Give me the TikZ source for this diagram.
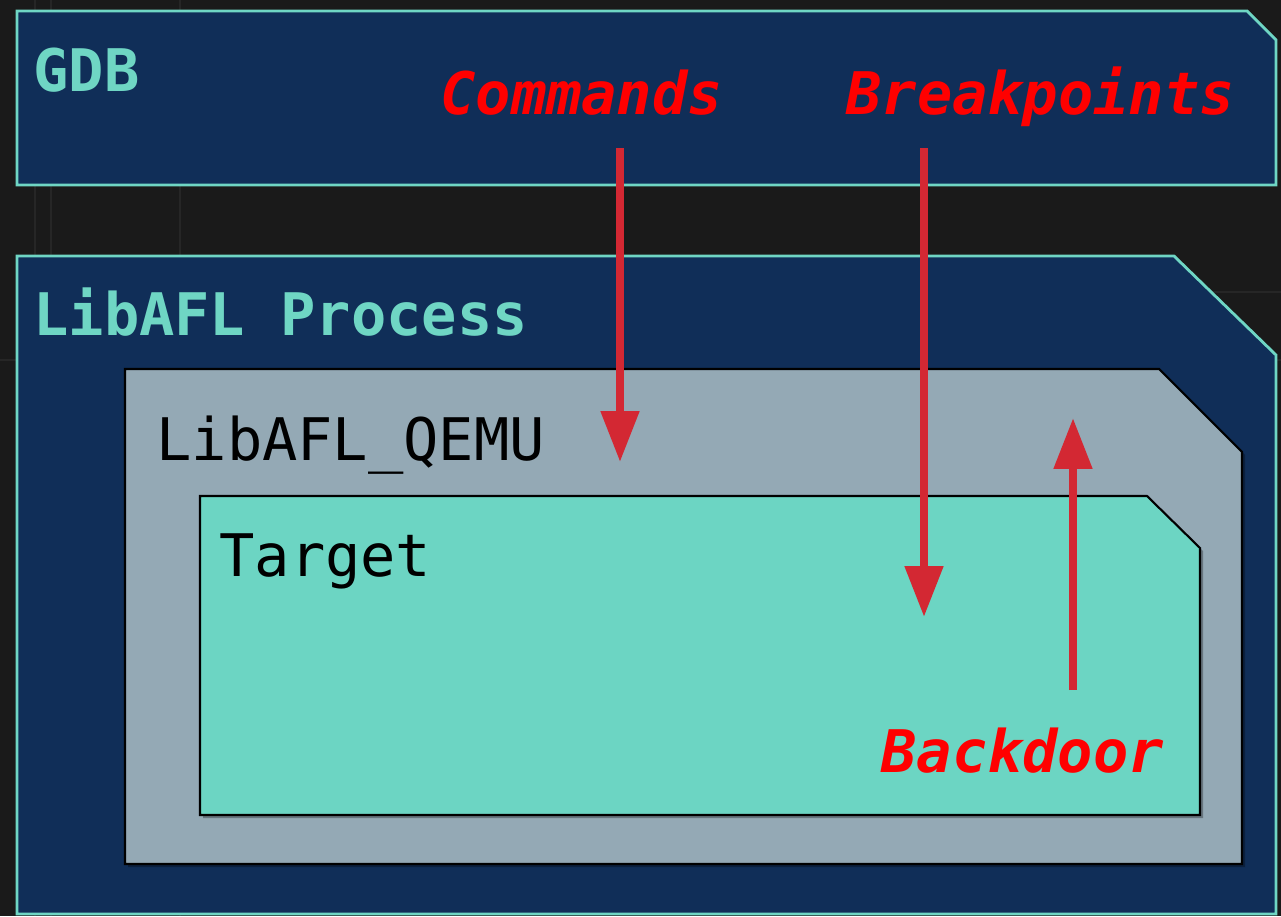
\documentclass[tikz,border=0pt]{standalone}
\usepackage{fontspec}
\usepackage{tikz}
\usetikzlibrary{arrows.meta,shadows}
\newfontfamily\boxfont{DejaVu Sans Mono}[
    BoldFont={DejaVu Sans Mono Bold},
    ItalicFont={DejaVu Sans Mono Oblique},
    BoldItalicFont={DejaVu Sans Mono Bold Oblique}]
\definecolor{bgdark}{HTML}{1A1A1A}
\definecolor{gridgray}{HTML}{262626}
\definecolor{navy}{HTML}{102E58}
\definecolor{tealline}{HTML}{6FD6C4}
\definecolor{targetfill}{HTML}{6CD5C3}
\definecolor{qemufill}{HTML}{94A9B5}
\definecolor{arrowred}{HTML}{D32833}

\begin{document}
\begin{tikzpicture}[
    x=0.02cm, y=-0.02cm,
    outerbox/.style={draw=tealline, fill=navy, line width=1.6pt, line join=miter},
    innerbox/.style={draw=black, line width=1.2pt, line join=miter,
        drop shadow={shadow xshift=0.06cm, shadow yshift=-0.06cm, opacity=0.3, fill=black}},
    title/.style={anchor=base west, inner sep=0pt, font=\boxfont\fontsize{33.4}{33.4}\selectfont},
    tealtitle/.style={title, font=\boxfont\bfseries\fontsize{33.4}{33.4}\selectfont, text=tealline},
    redtag/.style={title, font=\boxfont\bfseries\itshape\fontsize{33.4}{33.4}\selectfont, text=red},
    arrow/.style={-{Triangle[length=1.02cm, width=0.74cm]}, line width=0.165cm, color=arrowred}
]

    % Background
    \useasboundingbox (0,0) rectangle (1281,916);
    \fill[bgdark] (0,0) rectangle (1281,916);
    \draw[gridgray, line width=1.2pt] (35,0) -- (35,916) (51,0) -- (51,916) (180,0) -- (180,916)
        (1150,292) -- (1281,292) (0,360) -- (1281,360);

    % Boxes
    \draw[outerbox] (17,11) -- (1247,11) -- (1276,40) -- (1276,185) -- (17,185) -- cycle;
    \draw[outerbox] (17,256) -- (1174,256) -- (1276,355) -- (1276,914) -- (17,914) -- cycle;
    \draw[innerbox, fill=qemufill] (125,369) -- (1159,369) -- (1242,452) -- (1242,864) -- (125,864) -- cycle;
    \draw[innerbox, fill=targetfill] (200,496) -- (1147,496) -- (1200,548) -- (1200,815) -- (200,815) -- cycle;

    % Nodes
    \node[tealtitle] (gdb) at (33,91) {GDB};
    \node[tealtitle] (process) at (33,335) {LibAFL Process};
    \node[title] (qemu) at (156,460) {LibAFL\_QEMU};
    \node[title] (target) at (219,576) {Target};
    \node[redtag] (commands) at (440,114) {Commands};
    \node[redtag] (breakpoints) at (846,114) {Breakpoints};
    \node[redtag] (backdoor) at (881,772) {Backdoor};

    % Arrow ends
    \coordinate (cmdstart) at (620,148);
    \coordinate (cmdend) at (620,462);
    \coordinate (bpstart) at (924,148);
    \coordinate (bpend) at (924,617);
    \coordinate (bdstart) at (1073,690);
    \coordinate (bdend) at (1073,418);

    % Arrows
    \draw[arrow] (cmdstart) -- (cmdend);
    \draw[arrow] (bpstart) -- (bpend);
    \draw[arrow] (bdstart) -- (bdend);

\end{tikzpicture}
\end{document}
